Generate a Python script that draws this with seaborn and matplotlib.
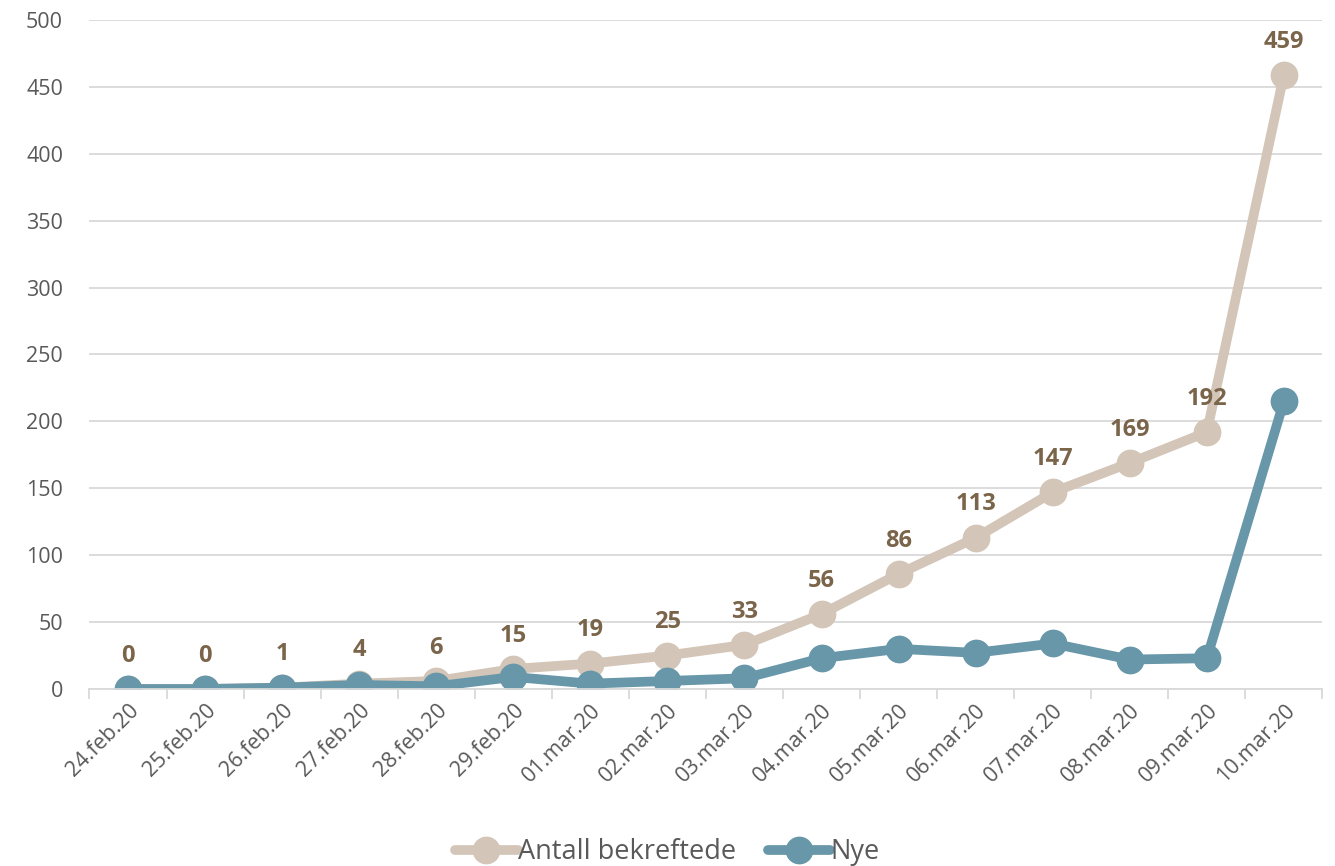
import matplotlib
matplotlib.use("Agg")
import matplotlib.pyplot as plt
import seaborn as sns
import pandas as pd
from matplotlib.lines import Line2D

dates = ["24.feb.20", "25.feb.20", "26.feb.20", "27.feb.20", "28.feb.20", "29.feb.20",
         "01.mar.20", "02.mar.20", "03.mar.20", "04.mar.20", "05.mar.20", "06.mar.20",
         "07.mar.20", "08.mar.20", "09.mar.20", "10.mar.20"]
antall = [0, 0, 1, 4, 6, 15, 19, 25, 33, 56, 86, 113, 147, 169, 192, 459]
nye = [0, 0, 1, 3, 2, 9, 4, 6, 8, 23, 30, 27, 34, 22, 23, 215]
series_names = ["Antall bekreftede", "Nye"]
colors = ["#D3C5B7", "#6797A8"]

sns.set_theme(style="white")
plt.rcParams['font.family'] = ['Open Sans', 'DejaVu Sans']

df = pd.DataFrame({
    "idx": list(range(len(dates))) * 2,
    "value": antall + nye,
    "series": [series_names[0]] * len(dates) + [series_names[1]] * len(dates),
})

fig = plt.figure(figsize=(13.35, 8.66), dpi=100)
ax = fig.add_axes([0.067, 0.2044, 0.9236, 0.7725])

sns.lineplot(data=df, x="idx", y="value", hue="series", palette=colors,
             marker="o", markersize=20, linewidth=7, markeredgewidth=0,
             ax=ax, legend=False)

ax.set_xlim(-0.5, len(dates) - 0.5)
ax.set_ylim(0, 500)
ax.set_yticks(range(0, 501, 50))
ax.yaxis.grid(True, color="#D9D9D9", linewidth=1.3)
ax.set_axisbelow(True)
ax.set_xlabel("")
ax.set_ylabel("")
ax.set_xticks(range(len(dates)))
ax.set_xticklabels(dates, rotation=45, ha="right", rotation_mode="anchor")
ax.set_xticks([i - 0.5 for i in range(len(dates) + 1)], minor=True)
ax.tick_params(axis="x", which="major", length=0, labelsize=15.5, labelcolor="#595959", pad=8)
ax.tick_params(axis="x", which="minor", length=7, color="#D9D9D9", width=1.3, direction="out", bottom=True)
ax.tick_params(axis="y", length=0, labelsize=15.5, labelcolor="#595959", pad=19)
for s in ["top", "right", "left"]:
    ax.spines[s].set_visible(False)
ax.spines["bottom"].set_color("#D9D9D9")
ax.spines["bottom"].set_linewidth(1.3)

for i, v in enumerate(antall):
    ax.annotate(str(v), (i, v), xytext=(0, 24), textcoords="offset points",
                ha="center", va="center", fontsize=17, fontweight="bold", color="#7A654A")

handles = [Line2D([0], [0], color=c, linewidth=7, marker="o", markersize=20,
                  markeredgewidth=0, solid_capstyle="round") for c in colors]
fig.legend(handles, series_names, loc="center", bbox_to_anchor=(0.5, 0.016), ncol=2,
           frameon=False, fontsize=19.5, labelcolor="#595959", handlelength=2.3,
           handletextpad=0.0, columnspacing=1.2)

fig.savefig("out.png", dpi=100)
